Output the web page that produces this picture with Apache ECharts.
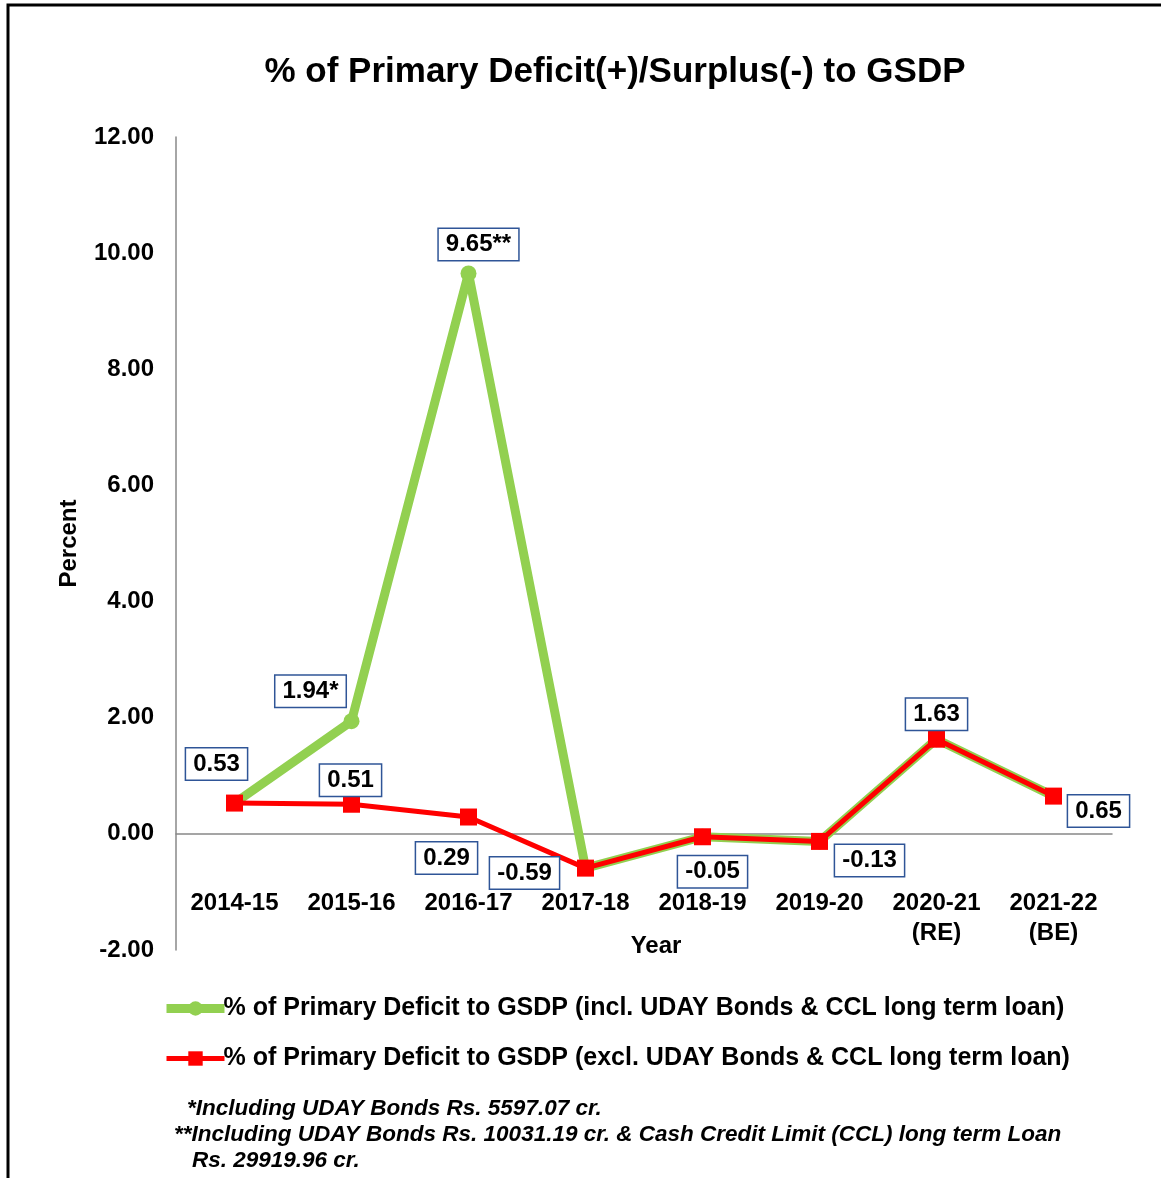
<!DOCTYPE html>
<html>
<head>
<meta charset="utf-8">
<title>% of Primary Deficit(+)/Surplus(-) to GSDP</title>
<script src="https://cdn.jsdelivr.net/npm/echarts@6/dist/echarts.min.js"></script>
<style>
  html, body { margin: 0; padding: 0; background: #fff; }
  #chart { width: 1161px; height: 1178px; }
</style>
</head>
<body>
<div id="chart"></div>
<script>
const years = ['2014-15', '2015-16', '2016-17', '2017-18', '2018-19', '2019-20', '2020-21\n(RE)', '2021-22\n(BE)']
const inclUday = [0.53, 1.94, 9.65, -0.59, -0.05, -0.13, 1.63, 0.65]
const exclUday = [0.53, 0.51, 0.29, -0.59, -0.05, -0.13, 1.63, 0.65]
const inclLabels = ['', '1.94*', '9.65**', '', '', '', '', '']
const exclLabels = ['0.53', '0.51', '0.29', '-0.59', '-0.05', '-0.13', '1.63', '0.65']
const yTicks = { min: -2, max: 12, interval: 2 }

const nameIncl = '% of Primary Deficit to GSDP (incl. UDAY Bonds & CCL long term loan)'
const nameExcl = '% of Primary Deficit to GSDP (excl. UDAY Bonds & CCL long term loan)'

// where each value box sits relative to its point (px)
const inclOffsets = [null, [-41, -30], [10, -29], null, null, null, null, null]
const exclOffsets = [[-18, -39], [-1, -24], [-22, 41], [-61, 5], [10, 35], [50, 19], [0, -25], [45, 15]]

const font = "'Liberation Sans', Arial, sans-serif"
const boxLabel = {
  show: true,
  position: 'inside',
  fontFamily: font,
  fontWeight: 'bold',
  fontSize: 24,
  color: '#000',
  backgroundColor: '#fff',
  borderColor: '#2F5597',
  borderWidth: 1.5,
  padding: [4, 7, 3, 7]
}

function withLabels(values, texts, offsets) {
  return values.map((v, i) => texts[i]
    ? { value: v, label: { ...boxLabel, offset: offsets[i], formatter: texts[i] } }
    : { value: v })
}

const footFont = "italic bold 22.5px 'Liberation Sans', Arial"

const chart = echarts.init(document.getElementById('chart'))
chart.setOption({
  animation: false,
  textStyle: { fontFamily: font },
  title: {
    text: '% of Primary Deficit(+)/Surplus(-) to GSDP',
    left: 610, top: 50, textAlign: 'center',
    textStyle: { fontFamily: font, fontSize: 35, fontWeight: 'bold', color: '#000' }
  },
  grid: { left: 176, right: 49, top: 137, bottom: 228 },
  xAxis: {
    type: 'category',
    data: years,
    name: 'Year',
    nameLocation: 'middle',
    nameGap: -16,
    nameMoveOverlap: false,
    nameTextStyle: { fontFamily: font, fontSize: 24, fontWeight: 'bold', color: '#000', padding: [0, 0, 0, 24] },
    axisLine: { onZero: true, lineStyle: { color: '#888', width: 1.5 } },
    axisTick: { show: false },
    axisLabel: { margin: -62, fontFamily: font, fontSize: 24, fontWeight: 'bold', color: '#000', lineHeight: 30, verticalAlign: 'top' }
  },
  yAxis: {
    type: 'value',
    min: yTicks.min, max: yTicks.max, interval: yTicks.interval,
    name: 'Percent',
    nameLocation: 'middle',
    nameGap: 95,
    nameTextStyle: { fontFamily: font, fontSize: 24, fontWeight: 'bold', color: '#000' },
    axisLine: { show: true, onZero: false, lineStyle: { color: '#888', width: 1.5 } },
    axisTick: { show: false },
    splitLine: { show: false },
    axisLabel: { margin: 22, fontFamily: font, fontSize: 24, fontWeight: 'bold', color: '#000', formatter: v => v.toFixed(2) }
  },
  legend: {
    orient: 'vertical',
    left: 157, top: 991,
    itemGap: 25,
    itemWidth: 58, itemHeight: 18,
    textStyle: { fontFamily: font, fontSize: 25, fontWeight: 'bold', color: '#000', padding: [0, 0, 0, -6] },
    data: [
      { name: nameIncl, lineStyle: { width: 9 } },
      { name: nameExcl, lineStyle: { width: 5 } }
    ]
  },
  series: [
    {
      name: nameIncl,
      type: 'line',
      data: withLabels(inclUday, inclLabels, inclOffsets),
      symbol: 'circle', symbolSize: 16,
      lineStyle: { color: '#92D050', width: 9 },
      itemStyle: { color: '#92D050' },
      z: 2
    },
    {
      name: nameExcl,
      type: 'line',
      data: withLabels(exclUday, exclLabels, exclOffsets),
      symbol: 'rect', symbolSize: 17,
      lineStyle: { color: '#FF0000', width: 5 },
      itemStyle: { color: '#FF0000' },
      z: 3
    }
  ],
  graphic: [
    { type: 'rect', shape: { x: 8, y: 5, width: 1170, height: 1190 }, style: { fill: 'none', stroke: '#000', lineWidth: 3 } },
    { type: 'text', left: 187, top: 1097, style: { text: '*Including UDAY Bonds Rs. 5597.07 cr.', font: footFont, fill: '#000' } },
    { type: 'text', left: 174, top: 1123, style: { text: '**Including UDAY Bonds Rs. 10031.19 cr. & Cash Credit Limit (CCL) long term Loan', font: footFont, fill: '#000' } },
    { type: 'text', left: 192, top: 1149, style: { text: 'Rs. 29919.96 cr.', font: footFont, fill: '#000' } }
  ]
})
</script>
</body>
</html>
